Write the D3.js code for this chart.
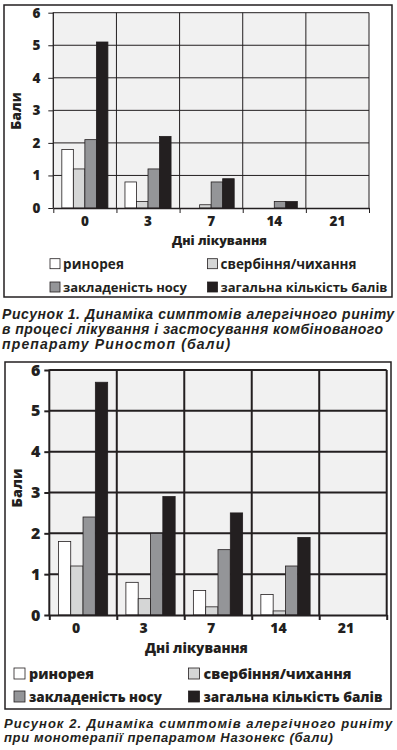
<!DOCTYPE html>
<html>
<head>
<meta charset="utf-8">
<script src="https://cdn.jsdelivr.net/npm/d3@7"></script>
<style>
  html, body { margin: 0; padding: 0; background: #fff; }
  svg { display: block; }
  text { fill: #231f20; }
</style>
</head>
<body>
<div id="chart"></div>
<script>
// data
const days = ['0', '3', '7', '14', '21'];
const seriesNames = ['ринорея', 'свербіння/чихання', 'закладеність носу', 'загальна кількість балів'];
const yTicks = [0, 1, 2, 3, 4, 5, 6];
const barColors = ['#ffffff', '#d5d6d6', '#949598', '#231f20'];

// chart 1 - Риностоп
const rhinorrhea1 = [1.8, 0.8, 0, 0, 0];
const itching1 = [1.2, 0.2, 0.1, 0, 0];
const congestion1 = [2.1, 1.2, 0.8, 0.2, 0];
const total1 = [5.1, 2.2, 0.9, 0.2, 0];
const caption1 = [
  'Рисунок 1. Динаміка симптомів алергічного риніту',
  'в процесі лікування і застосування комбінованого',
  'препарату Риностоп (бали)'
];

// chart 2 - Назонекс
const rhinorrhea2 = [1.8, 0.8, 0.6, 0.5, 0];
const itching2 = [1.2, 0.4, 0.2, 0.1, 0];
const congestion2 = [2.4, 2.0, 1.6, 1.2, 0];
const total2 = [5.7, 2.9, 2.5, 1.9, 0];
const caption2 = [
  'Рисунок 2. Динаміка симптомів алергічного риніту',
  'при монотерапії препаратом Назонекс (бали)'
];

const xTitle = 'Дні лікування';
const yTitle = 'Бали';

const svg = d3.select('#chart').append('svg')
  .attr('width', 397)
  .attr('height', 750);

const font = "'Open Sans', 'Noto Sans', sans-serif";
const capFont = "'Liberation Sans', Arial, sans-serif";
const heavy = 800;

// squeeze (font size) or spread (letter spacing) a text to the wanted width
function fit(sel, widthOf) {
  sel.each(function (d, i) {
    const want = widthOf(d, i);
    const have = this.getComputedTextLength();
    const n = this.textContent.length;
    if (have > want) {
      const fs = parseFloat(this.getAttribute('font-size'));
      this.setAttribute('font-size', (fs * want / have).toFixed(2));
    } else if (n > 1) {
      this.setAttribute('letter-spacing', ((want - have) / (n - 1)).toFixed(2));
    }
  });
}

function drawChart(cfg, series, caption) {
  const g = svg.append('g');

  // outer frame
  g.append('rect')
    .attr('x', cfg.frame[0]).attr('y', cfg.frame[1])
    .attr('width', cfg.frame[2] - cfg.frame[0]).attr('height', cfg.frame[3] - cfg.frame[1])
    .attr('fill', 'none').attr('stroke', '#231f20').attr('stroke-width', 1.5);

  const x0 = d3.scaleBand()
    .domain(days)
    .range([cfg.left, cfg.right])
    .paddingInner(0.27)
    .paddingOuter(0.135);
  const x1 = d3.scaleBand()
    .domain(d3.range(seriesNames.length))
    .range([0, x0.bandwidth()]);
  const y = d3.scaleLinear()
    .domain([0, 6])
    .range([cfg.bottom, cfg.top]);
  const edges = d3.scaleLinear()
    .domain([0, days.length])
    .range([cfg.left, cfg.right]);

  // plot background
  g.append('rect')
    .attr('x', cfg.left).attr('y', cfg.top)
    .attr('width', cfg.right - cfg.left).attr('height', cfg.bottom - cfg.top)
    .attr('fill', '#f1f1f1');

  // grid
  g.append('g').selectAll('line')
    .data(yTicks.slice(1))
    .join('line')
      .attr('x1', cfg.left).attr('x2', cfg.right)
      .attr('y1', d => y(d)).attr('y2', d => y(d))
      .attr('stroke', '#231f20').attr('stroke-width', cfg.grid);
  g.append('g').selectAll('line')
    .data(d3.range(1, days.length + 1))
    .join('line')
      .attr('x1', d => edges(d)).attr('x2', d => edges(d))
      .attr('y1', cfg.top).attr('y2', cfg.bottom)
      .attr('stroke', '#231f20').attr('stroke-width', cfg.grid);

  // bars
  const groups = g.append('g').selectAll('g')
    .data(days)
    .join('g')
      .attr('transform', d => 'translate(' + x0(d) + ',0)');
  groups.selectAll('rect')
    .data((d, i) => series.map((s, k) => ({k: k, v: s[i]})).filter(e => e.v > 0))
    .join('rect')
      .attr('x', d => x1(d.k))
      .attr('y', d => y(d.v))
      .attr('width', x1.bandwidth())
      .attr('height', d => y(0) - y(d.v))
      .attr('fill', d => barColors[d.k])
      .attr('stroke', '#231f20')
      .attr('stroke-width', 0.8);

  // y axis
  const yAxis = g.append('g')
    .attr('transform', 'translate(' + cfg.left + ',0)')
    .call(d3.axisLeft(y).tickValues(yTicks).tickFormat(d3.format('d')).tickSize(5).tickPadding(cfg.yPad));
  yAxis.select('.domain').remove();
  yAxis.selectAll('line').attr('stroke', '#231f20').attr('stroke-width', cfg.grid);
  yAxis.selectAll('text')
    .attr('font-family', font).attr('font-weight', heavy)
    .attr('font-size', cfg.yFont).attr('fill', '#231f20');
  g.append('line')
    .attr('x1', cfg.left).attr('x2', cfg.left)
    .attr('y1', cfg.top - 0.5).attr('y2', cfg.bottom)
    .attr('stroke', '#231f20').attr('stroke-width', cfg.axis);

  // x axis: ticks at band edges, labels at band centres
  const xEdge = g.append('g')
    .attr('transform', 'translate(0,' + cfg.bottom + ')')
    .call(d3.axisBottom(edges).tickValues(d3.range(days.length + 1)).tickFormat('').tickSize(5).tickSizeOuter(0));
  xEdge.select('.domain').attr('stroke', '#231f20').attr('stroke-width', cfg.axis);
  xEdge.selectAll('line').attr('stroke', '#231f20').attr('stroke-width', cfg.grid);

  const xLab = g.append('g')
    .attr('transform', 'translate(' + cfg.xShift + ',' + cfg.bottom + ')')
    .call(d3.axisBottom(x0).tickSize(0).tickPadding(0));
  xLab.select('.domain').remove();
  xLab.selectAll('text')
    .attr('y', cfg.xLabelY - cfg.bottom).attr('dy', null)
    .attr('font-family', font).attr('font-weight', heavy)
    .attr('font-size', cfg.xFont).attr('fill', '#231f20');

  // axis titles
  g.append('text')
    .attr('x', cfg.xTitle[0]).attr('y', cfg.xTitle[1])
    .attr('font-family', font).attr('font-weight', heavy).attr('font-size', cfg.titleFont)
    .text(xTitle)
    .call(fit, () => cfg.xTitle[2]);
  g.append('text')
    .attr('transform', 'translate(' + cfg.yTitle[0] + ',' + cfg.yTitle[1] + ') rotate(-90)')
    .attr('text-anchor', 'middle')
    .attr('font-family', font).attr('font-weight', heavy).attr('font-size', cfg.titleFont)
    .text(yTitle);

  // legend
  const leg = g.append('g').selectAll('g')
    .data(seriesNames)
    .join('g')
      .attr('transform', (d, i) => 'translate(' + cfg.legX[i % 2] + ',' + cfg.legY[Math.floor(i / 2)] + ')');
  leg.append('rect')
    .attr('x', 0).attr('y', -cfg.sq)
    .attr('width', cfg.sq).attr('height', cfg.sq)
    .attr('fill', (d, i) => barColors[i])
    .attr('stroke', '#231f20').attr('stroke-width', 0.8);
  leg.append('text')
    .attr('x', cfg.sq + cfg.legGap).attr('y', 0)
    .attr('font-family', font).attr('font-weight', cfg.legWeight).attr('font-size', cfg.legFont)
    .text(d => d)
    .call(fit, (d, i) => cfg.legW[i]);

  // caption
  g.append('g').selectAll('text')
    .data(caption)
    .join('text')
      .attr('x', cfg.capX)
      .attr('y', (d, i) => cfg.capY + i * cfg.capStep)
      .attr('font-family', capFont).attr('font-weight', 'bold').attr('font-style', 'italic')
      .attr('font-size', cfg.capFont)
      .text(d => d)
      .call(fit, (d, i) => cfg.capW[i]);
}

drawChart({
  frame: [4, 5, 392, 297],
  left: 53.3, right: 369, top: 12.7, bottom: 208,
  grid: 1, axis: 1.3,
  yFont: 13.5, yPad: 8, xFont: 13.5, xShift: 0, xLabelY: 225.5,
  titleFont: 14, xTitle: [172, 244.5, 95], yTitle: [20.5, 111],
  legX: [50, 207.5], legY: [268.7, 292], sq: 10, legGap: 3, legFont: 13.5, legWeight: 700,
  legW: [61, 136, 124, 167],
  capX: 2, capY: 318.5, capStep: 15, capFont: 14, capW: [392, 381, 228]
}, [rhinorrhea1, itching1, congestion1, total1], caption1);

drawChart({
  frame: [5, 362, 391, 709],
  left: 49.3, right: 386.7, top: 370, bottom: 615,
  grid: 2, axis: 2,
  yFont: 16, yPad: 4, xFont: 14, xShift: -7, xLabelY: 632.5,
  titleFont: 14.5, xTitle: [145, 652.5, 103], yTitle: [21.7, 488],
  legX: [14, 188.5], legY: [679, 702], sq: 11, legGap: 4, legFont: 15, legWeight: 800,
  legW: [65, 148, 133, 179],
  capX: 4, capY: 728, capStep: 14, capFont: 13, capW: [388, 329]
}, [rhinorrhea2, itching2, congestion2, total2], caption2);
</script>
</body>
</html>
